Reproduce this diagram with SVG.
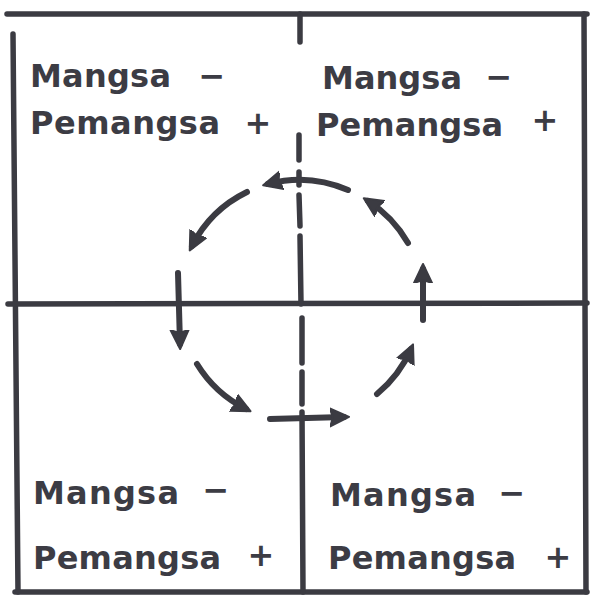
<svg xmlns="http://www.w3.org/2000/svg" width="590" height="595" viewBox="0 0 590 595">
<defs>
<style>
.ln{stroke:#3b3b42;stroke-width:5.5;stroke-linecap:round;fill:none}
.ar{stroke:#3b3b42;stroke-width:6;stroke-linecap:round;fill:none;marker-end:url(#head)}
.w{font-family:"DejaVu Sans","Liberation Sans",sans-serif;font-weight:bold;font-size:32px;fill:#3c3c44}
.d{font-family:"DejaVu Sans","Liberation Sans",sans-serif;font-weight:bold;font-size:32px;fill:#3c3c44;text-anchor:middle}
</style>
<marker id="head" markerUnits="userSpaceOnUse" markerWidth="24" markerHeight="24" refX="14" refY="10" orient="auto">
<path d="M0,1 L19,10 L0,19 L3,10 z" fill="#3b3b42" stroke="#3b3b42" stroke-width="2" stroke-linejoin="round"/>
</marker>
</defs>
<rect width="590" height="595" fill="#ffffff"/>
<g id="frame">
<path class="ln" d="M7,14 L587,14"/>
<path class="ln" d="M13,34 L18,592"/>
<path class="ln" d="M584,14 L586,592"/>
<path class="ln" d="M15,592 L587,592"/>
<path class="ln" d="M8,304 L587,303"/>
<path class="ln" d="M300,14 L300,42 M299,135 L299,160 M299,172 L299,185 M299,195 L300,226 M300,236 L301,304 M302,318 L302,363 M302,372 L302,404 M302,412 L303,592"/>
</g>
<g id="q-top-left">
<text class="w" x="30" y="87" textLength="141" lengthAdjust="spacing">Mangsa</text>
<text class="d" x="212" y="87">−</text>
<text class="w" x="30" y="134" textLength="190" lengthAdjust="spacing">Pemangsa</text>
<text class="d" x="258" y="134">+</text>
</g>
<g id="q-top-right">
<text class="w" x="322" y="89" textLength="140" lengthAdjust="spacing">Mangsa</text>
<text class="d" x="499" y="88">−</text>
<text class="w" x="316" y="136" textLength="187" lengthAdjust="spacing">Pemangsa</text>
<text class="d" x="545" y="131">+</text>
</g>
<g id="q-bottom-left">
<text class="w" x="33" y="504" textLength="146" lengthAdjust="spacing">Mangsa</text>
<text class="d" x="216" y="501">−</text>
<text class="w" x="33" y="569" textLength="188" lengthAdjust="spacing">Pemangsa</text>
<text class="d" x="261" y="566">+</text>
</g>
<g id="q-bottom-right">
<text class="w" x="330" y="506" textLength="146" lengthAdjust="spacing">Mangsa</text>
<text class="d" x="512" y="504">−</text>
<text class="w" x="328" y="569" textLength="188" lengthAdjust="spacing">Pemangsa</text>
<text class="d" x="558" y="568">+</text>
</g>
<g id="connectors">
<path class="ar" d="M348,190 A121,121 0 0 0 268,184"/>
<path class="ar" d="M247,192 A121,121 0 0 0 192,246"/>
<path class="ar" d="M178,273 L180,344"/>
<path class="ar" d="M197,364 A121,121 0 0 0 246,409"/>
<path class="ar" d="M270,419 L344,417"/>
<path class="ar" d="M377,394 A121,121 0 0 0 411,349"/>
<path class="ar" d="M423,320 L423,269"/>
<path class="ar" d="M408,243 A121,121 0 0 0 368,201"/>
</g>
</svg>
